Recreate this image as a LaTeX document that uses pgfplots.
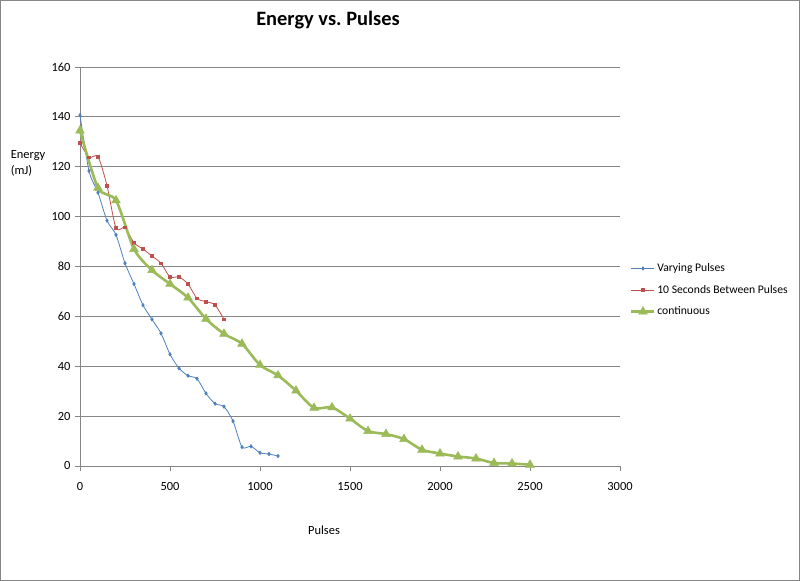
\documentclass[border=0pt]{standalone}
\usepackage{pgfplots}
\pgfplotsset{compat=1.18}
\usepackage{fontspec}
\setmainfont{Carlito}
\definecolor{xblue}{HTML}{4F81BD}
\definecolor{xred}{HTML}{C0504D}
\definecolor{xgreen}{HTML}{9BBB59}
\definecolor{xgrid}{HTML}{868686}
\begin{document}
\begin{tikzpicture}[x=1bp,y=1bp]
\useasboundingbox (-80,-115) rectangle (720,466);
\draw[xgrid, line width=0.8bp] (-79.6,-114.6) rectangle (719.6,465.6);
\begin{axis}[
  at={(0,0)}, anchor=south west,
  scale only axis, width=540bp, height=399bp,
  xmin=0, xmax=3000, ymin=0, ymax=160,
  xtick={0,500,...,3000}, ytick={0,20,...,160},
  axis lines*=left,
  axis line style={xgrid, line width=0.9bp},
  ymajorgrids, grid style={xgrid, line width=0.9bp},
  tick align=outside, major tick length=5bp,
  tick style={xgrid, line width=0.9bp},
  /pgf/number format/assume math mode=true,
  /pgf/number format/1000 sep={},
  ticklabel style={font=\fontsize{12.5}{14}\selectfont},
  xticklabel style={yshift=-8bp},
  yticklabel style={xshift=-1bp},
  clip=false,
  legend style={at={(1.0185,0.441)}, anchor=west, draw=none, fill=none,
    font=\fontsize{11.7}{14}\selectfont, row sep=8bp, inner xsep=0pt,
    /tikz/every even column/.append style={column sep=0bp},
    nodes={inner xsep=1.5bp}},
  legend cell align=left,
  legend image code/.code={\draw[mark repeat=2,mark phase=2,#1] plot coordinates {(0bp,0bp) (11.5bp,0bp) (23bp,0bp)};},
]
\addplot[xblue, line width=0.8bp, smooth, tension=0.45, mark=diamond*, mark size=1.6bp, mark options={solid, fill=xblue}] coordinates {
(0,140.7) (50,118.3) (100,109.6) (150,98.4) (200,92.7) (250,81.3) (300,73)
(350,64.5) (400,58.8) (450,53.2) (500,44.8) (550,39.2) (600,36.2) (650,35)
(700,29.1) (750,25) (800,23.8) (850,18) (900,7.6) (950,7.9) (1000,5.3)
(1050,4.8) (1100,4.0)};
\addlegendentry{Varying Pulses}
\addplot[xred, line width=0.8bp, smooth, tension=0.45, mark=square*, mark size=1.3bp, mark options={solid, fill=xred}] coordinates {
(0,129.5) (50,123.8) (100,124) (150,112.4) (200,95.4) (250,95.6) (300,89.5)
(350,87) (400,84.2) (450,81.3) (500,75.8) (550,75.8) (600,73) (650,67.2)
(700,65.9) (750,64.6) (800,58.8)};
\addlegendentry{10 Seconds Between Pulses}
\addplot[xgreen, line width=2.6bp, smooth, tension=0.45, mark=triangle*, mark size=5bp, mark options={solid, fill=xgreen, line width=0.5bp}] coordinates {
(0,134.5) (100,111.5) (200,106.5) (300,87) (400,78.5) (500,73) (600,67.5)
(700,59) (800,53) (900,49) (1000,40.5) (1100,36.3) (1200,30.2) (1300,23.3)
(1400,23.5) (1500,19) (1600,14) (1700,12.8) (1800,10.8) (1900,6.5)
(2000,5) (2100,3.8) (2200,3) (2300,1.2) (2400,1) (2500,0.5)};
\addlegendentry{continuous}
\end{axis}
\node[font=\bfseries\fontsize{20.5}{24}\selectfont] at (248,446) {Energy vs.\ Pulses};
\node[font=\fontsize{12.5}{16}\selectfont, align=left] at (-52,303) {Energy\\(mJ)};
\node[font=\fontsize{12.5}{15}\selectfont] at (244,-64) {Pulses};
\end{tikzpicture}
\end{document}
